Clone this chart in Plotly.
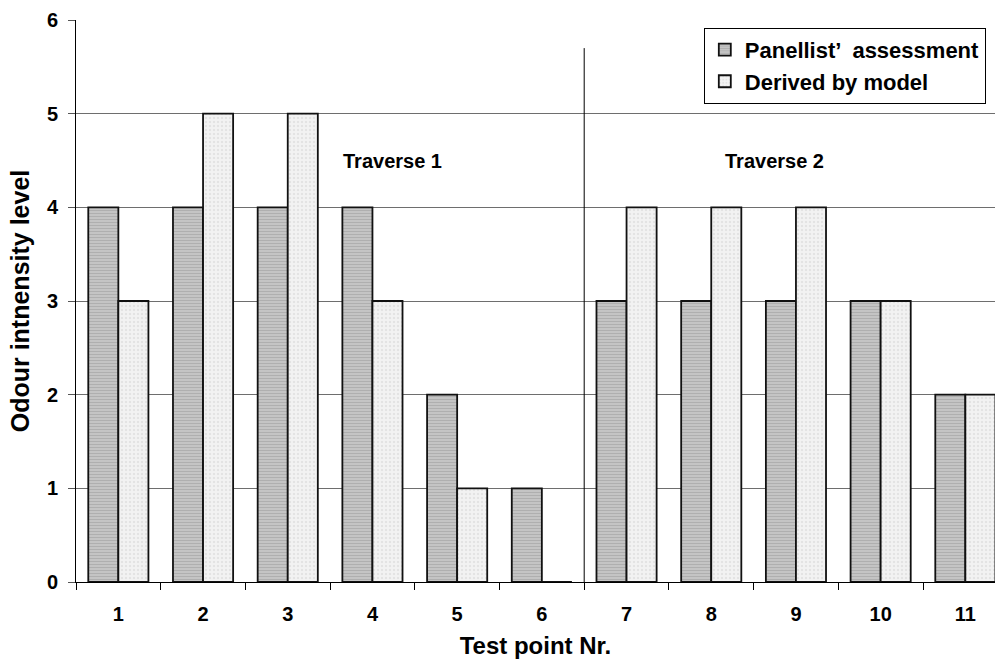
import plotly.graph_objects as go

# Test points and odour intensity ratings
test_points = ["1", "2", "3", "4", "5", "6", "7", "8", "9", "10", "11"]
panellist = [4, 4, 4, 4, 2, 1, 3, 3, 3, 3, 2]
model = [3, 5, 5, 3, 1, 0, 4, 4, 4, 3, 2]
y_ticks = [0, 1, 2, 3, 4, 5, 6]

FONT = "Liberation Sans, Arial, sans-serif"

fig = go.Figure()
fig.add_trace(go.Bar(
    x=test_points, y=panellist, name="Panellist\u2019\u2002assessment",
    marker=dict(
        color="#c4c4c4",
        line=dict(color="#111111", width=1.8),
        pattern=dict(shape="-", fgcolor="#9a9a9a", bgcolor="#c4c4c4", size=3, solidity=0.35),
    ),
))
fig.add_trace(go.Bar(
    x=test_points, y=model, name="Derived by model",
    marker=dict(
        color="#efefef",
        line=dict(color="#111111", width=1.8),
        pattern=dict(shape=".", fgcolor="#d4d4d4", bgcolor="#f2f2f2", size=4, solidity=0.3),
    ),
))

# Divider between the two traverses
fig.add_shape(type="line", xref="x", yref="y", x0=5.5, x1=5.5, y0=0, y1=5.7,
              line=dict(color="black", width=1))

fig.add_annotation(x=3.24, y=4.5, text="<b>Traverse 1</b>", showarrow=False,
                   font=dict(family=FONT, size=20, color="black"))
fig.add_annotation(x=7.75, y=4.5, text="<b>Traverse 2</b>", showarrow=False,
                   font=dict(family=FONT, size=20, color="black"))

fig.update_layout(
    width=995, height=660,
    margin=dict(l=76, r=0, t=20, b=78),
    paper_bgcolor="white", plot_bgcolor="white",
    barmode="group", bargap=0.29, bargroupgap=0,
    font=dict(family=FONT, color="black"),
    legend=dict(
        x=0.990, y=0.986, xanchor="right", yanchor="top",
        bgcolor="white", bordercolor="black", borderwidth=1,
        font=dict(family=FONT, size=22, color="black", weight="bold"),
        itemwidth=30, tracegroupgap=0,
    ),
    xaxis=dict(
        type="category", range=[-0.5, 10.35],
        showline=True, linecolor="black", linewidth=1,
        ticks="outside", tickson="boundaries", ticklen=7, tickcolor="black",
        tickfont=dict(family=FONT, size=20, color="black", weight="bold"),
        ticklabelstandoff=14,
        showgrid=False,
        title=dict(text="<b>Test point Nr.</b>", font=dict(family=FONT, size=24, color="black"),
                   standoff=13),
    ),
    yaxis=dict(
        range=[0, 6], tickvals=y_ticks,
        showline=True, linecolor="black", linewidth=1,
        ticks="outside", ticklen=7, tickcolor="#555555",
        tickfont=dict(family=FONT, size=20, color="black", weight="bold"),
        ticklabelstandoff=6,
        showgrid=True, gridcolor="#6e6e6e", gridwidth=1,
        zeroline=False,
        title=dict(text="<b>Odour intnensity level</b>", font=dict(family=FONT, size=25, color="black"),
                   standoff=10),
    ),
)

fig.write_html("out.html")
